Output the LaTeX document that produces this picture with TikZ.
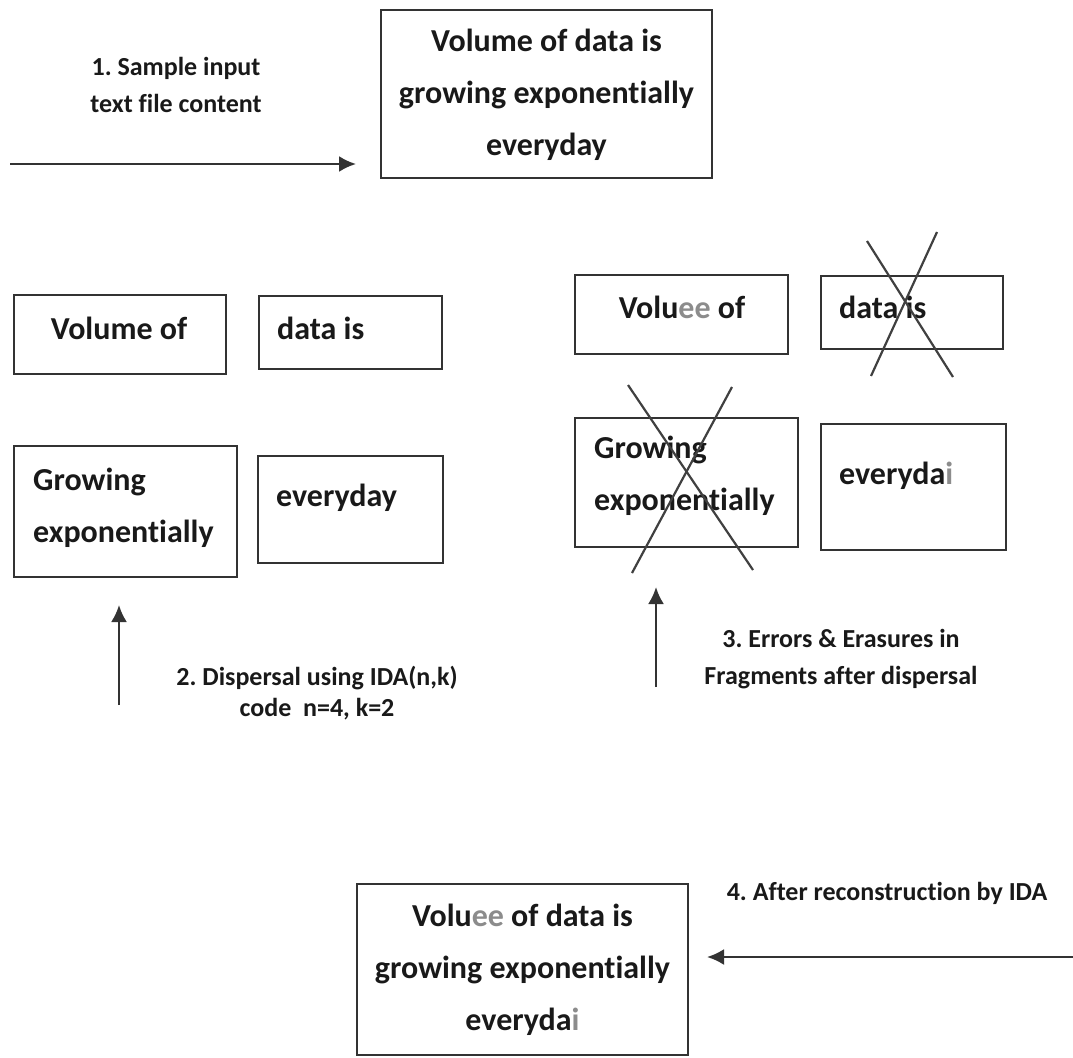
\documentclass[tikz,border=0pt]{standalone}
\usepackage{fontspec}
\setmainfont{Carlito}[Ligatures=NoCommon]
\usetikzlibrary{arrows.meta}
\frenchspacing

\tikzset{
  box/.style={draw=black!80, line width=2.4pt, inner sep=0pt},
  txt/.style={font=\fontsize{32}{52}\selectfont\bfseries, text=black!90, inner sep=0pt},
  lbl/.style={font=\fontsize{26}{37}\selectfont\bfseries, text=black!90, align=center, inner sep=0pt},
  flow/.style={-{Latex[length=17pt,width=16pt]}, line width=2.4pt, draw=black!80},
  cross/.style={line width=2.2pt, draw=black!75},
}
\newcommand{\badch}[1]{\textcolor{black!45}{#1}}

\begin{document}
\begin{tikzpicture}[x=1pt, y=-1pt]
\useasboundingbox (0,0) rectangle (1073,1057);

\node[box, minimum width=331, minimum height=168] (input) at (546.5,94) {};
\node[txt, align=center] (inputtxt) at (546.5,95) {Volume of data is\\growing exponentially\\everyday};
\node[lbl] (step1) at (176,85) {1. Sample input\\text file content};
\coordinate (in1) at (10,164);
\coordinate (in2) at (356,164);
\draw[flow] (in1) -- (in2);

\node[box, minimum width=212, minimum height=79] (fa) at (120,334.5) {};
\node[txt, anchor=base] (fatxt) at (119,339) {Volume of};
\node[box, minimum width=183, minimum height=73] (fb) at (350.5,332.5) {};
\node[txt, anchor=base west] (fbtxt) at (277,339) {data is};
\node[box, minimum width=223, minimum height=131] (fc) at (125.5,511.5) {};
\node[txt, anchor=base west, align=left] (fctxt) at (33,542) {Growing\\exponentially};
\node[box, minimum width=185, minimum height=107] (fd) at (350.5,509.5) {};
\node[txt, anchor=base west] (fdtxt) at (276,506) {everyday};

\coordinate (up2a) at (119,705);
\coordinate (up2b) at (119,605);
\draw[flow] (up2a) -- (up2b);
\node[lbl, font=\fontsize{26}{31}\selectfont\bfseries] (step2) at (317,693) {2. Dispersal using IDA(n,k)\\code\ \ n=4, k=2};

\node[box, minimum width=213, minimum height=79] (ea) at (681.5,314.5) {};
\node[txt, anchor=base] (eatxt) at (682,318) {Volu\badch{ee} of};
\node[box, minimum width=182, minimum height=73] (eb) at (912,312.5) {};
\node[txt, anchor=base west] (ebtxt) at (839,318) {data is};
\node[box, minimum width=223, minimum height=129] (ec) at (686.5,482.5) {};
\node[txt, anchor=base west, align=left] (ectxt) at (594,510) {Growing\\exponentially};
\node[box, minimum width=185, minimum height=126] (ed) at (913.5,487) {};
\node[txt, anchor=base west] (edtxt) at (839,484) {everyda\badch{i}};

\draw[cross] (867,241) -- (953,377);
\draw[cross] (937,232) -- (871,376);
\draw[cross] (628,385) -- (753,570);
\draw[cross] (732,387) -- (632,573);

\coordinate (up3a) at (656,687);
\coordinate (up3b) at (656,587);
\draw[flow] (up3a) -- (up3b);
\node[lbl] (step3) at (841,659) {3. Errors \& Erasures in\\Fragments after dispersal};

\node[box, minimum width=331, minimum height=171] (output) at (522.5,969.5) {};
\node[txt, align=center] (outputtxt) at (522.5,970) {Volu\badch{ee} of data is\\growing exponentially\\everyda\badch{i}};
\node[lbl] (step4) at (887,893) {4. After reconstruction by IDA};
\coordinate (rc1) at (1073,957);
\coordinate (rc2) at (707,957);
\draw[flow] (rc1) -- (rc2);
\end{tikzpicture}
\end{document}
